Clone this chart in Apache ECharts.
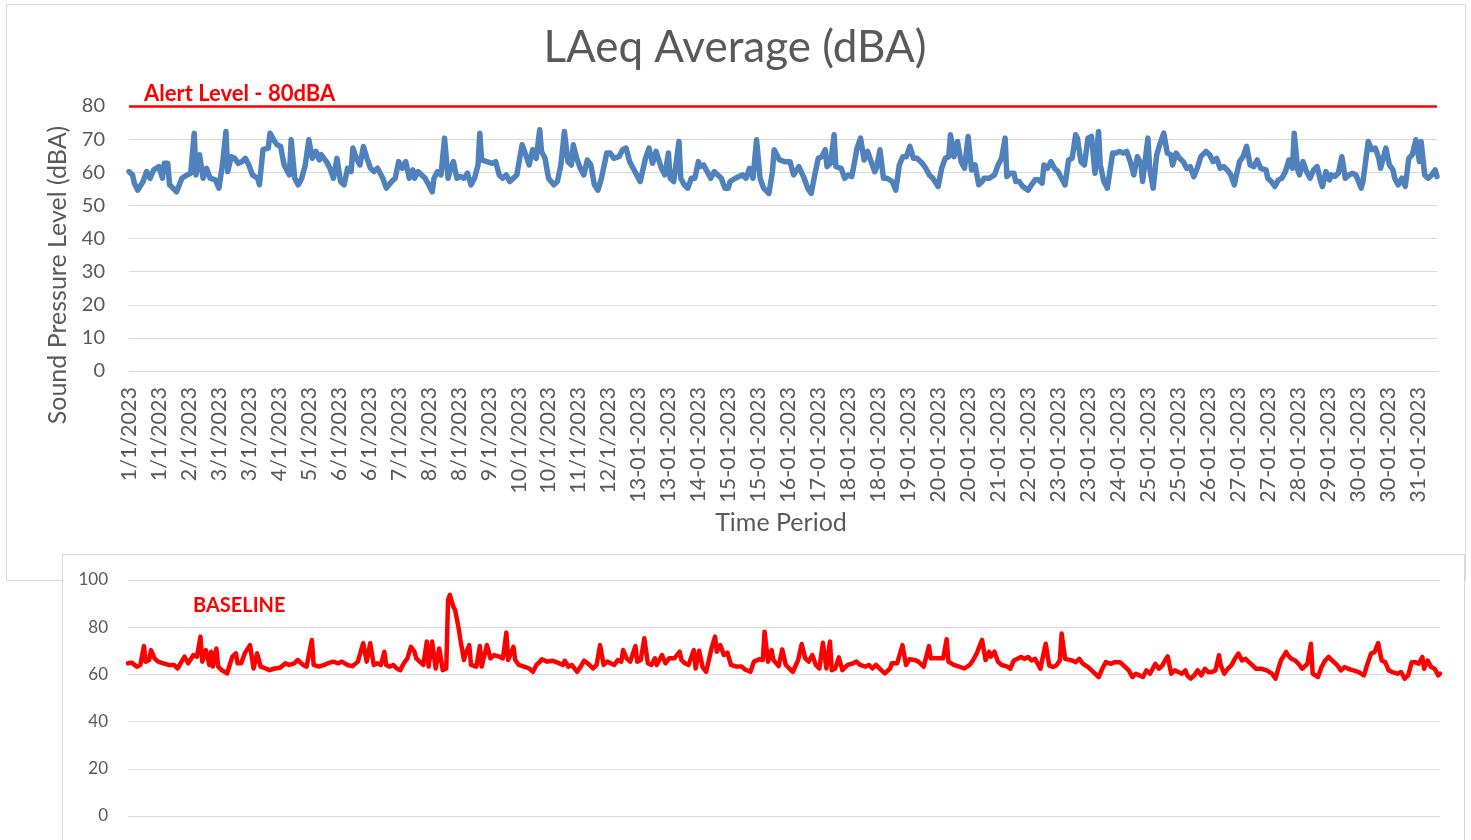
<!DOCTYPE html>
<html><head><meta charset="utf-8">
<script src="https://cdn.jsdelivr.net/npm/echarts@6/dist/echarts.min.js"></script>
<style>
html,body{margin:0;padding:0;background:#fff;width:1471px;height:840px;overflow:hidden;position:relative}
#topBox{position:absolute;left:6px;top:4px;width:1460px;height:577px;border:1px solid #d9d9d9;box-sizing:border-box}
#chartTop{position:absolute;left:0;top:0;width:1471px;height:840px}
#botBox{position:absolute;left:62px;top:554px;width:1403px;height:300px;border:1px solid #d9d9d9;box-sizing:border-box;background:#fff}
#chartBot{position:absolute;left:0;top:0;width:1471px;height:840px}
</style></head><body>
<div id="topBox"></div><div id="chartTop"></div><div id="botBox"></div><div id="chartBot"></div>
<script>
const tickLabels = ["1/1/2023","1/1/2023","2/1/2023","3/1/2023","3/1/2023","4/1/2023","5/1/2023","6/1/2023","6/1/2023","7/1/2023","8/1/2023","8/1/2023","9/1/2023","10/1/2023","10/1/2023","11/1/2023","12/1/2023","13-01-2023","13-01-2023","14-01-2023","15-01-2023","15-01-2023","16-01-2023","17-01-2023","18-01-2023","18-01-2023","19-01-2023","20-01-2023","20-01-2023","21-01-2023","22-01-2023","23-01-2023","23-01-2023","24-01-2023","25-01-2023","25-01-2023","26-01-2023","27-01-2023","27-01-2023","28-01-2023","29-01-2023","30-01-2023","30-01-2023","31-01-2023"];
const hoursCount = 743;
const labelStep = 17;
const alertLevel = 80;

// [hour index, dBA]
const laeqAverage = [[0,60.2],[2,59.2],[3,56.7],[5,54.6],[8,57.2],[10,60.2],[12,58.2],[14,60.7],[17,61.7],[19,58.2],[20,62.7],[22,62.7],[23,56.2],[25,55.2],[27,54.1],[30,58.2],[33,59.2],[35,59.7],[37,71.8],[38,59.2],[40,65.3],[42,58.2],[44,61.2],[46,58.2],[49,57.7],[51,55.2],[53,62.2],[55,72.3],[56,60.2],[58,64.7],[60,64.2],[62,62.7],[64,63.2],[66,64.2],[68,62.2],[70,59.2],[73,58.2],[74,56.2],[76,66.8],[79,67.3],[80,71.8],[82,69.8],[84,68.3],[86,67.8],[88,62.2],[90,60.2],[91,59.2],[92,69.8],[94,58.2],[96,56.2],[98,58.2],[100,62.2],[102,69.8],[104,64.2],[106,66.3],[108,63.7],[109,65.3],[112,63.2],[114,61.2],[116,58.2],[118,64.2],[120,57.2],[122,56.2],[124,61.2],[126,60.2],[127,67.3],[129,64.2],[131,62.2],[133,67.8],[135,64.2],[137,61.2],[139,60.2],[141,61.2],[144,58.2],[146,55.2],[149,57.2],[151,58.2],[153,63.2],[155,61.2],[157,63.2],[159,58.2],[161,60.7],[162,58.2],[164,60.2],[166,59.2],[168,58.2],[170,56.2],[172,54.1],[173,58.2],[175,60.2],[177,59.2],[179,70.3],[181,58.2],[182,60.2],[184,63.2],[186,58.2],[188,58.7],[190,58.2],[192,59.7],[194,56.2],[196,58.2],[198,62.2],[199,71.8],[200,63.7],[203,63.2],[206,62.7],[208,63.2],[210,59.2],[212,58.2],[214,59.2],[216,57.2],[218,58.2],[220,59.2],[223,68.3],[225,65.3],[227,62.2],[229,66.8],[231,64.2],[233,72.8],[234,66.3],[236,64.2],[238,58.2],
[239,58.2],[241,56.2],[243,57.2],[245,62.2],[247,72.3],[249,63.2],[251,62.2],[252,68.3],[254,64.2],[256,61.2],[258,59.2],[260,63.7],[262,62.2],[264,56.2],[266,54.6],[268,58.2],[270,63.2],[271,65.8],[273,65.8],[275,64.2],[278,64.7],[280,66.8],[282,67.3],[284,63.2],[286,61.2],[288,59.2],[290,57.2],[293,64.2],[295,67.3],[297,62.7],[299,66.3],[302,61.2],[304,59.2],[306,65.8],[307,58.2],[309,57.2],[312,69.3],[313,58.2],[315,56.2],[317,55.2],[319,58.2],[321,58.2],[323,63.2],[324,61.7],[326,62.2],[328,60.2],[330,58.2],[332,60.2],[334,59.2],[336,58.2],[338,55.2],[340,55.2],[341,57.2],[344,58.2],[346,58.7],[348,59.2],[350,58.2],[352,61.2],[354,58.2],[356,69.8],[358,58.2],[360,55.2],[363,53.6],[365,60.2],[366,66.8],[369,63.7],[372,63.2],[375,63.2],[377,59.2],[380,61.7],[383,58.2],[385,55.2],[387,53.6],[389,59.2],[391,64.2],[393,64.7],[395,66.8],[396,61.7],[398,62.7],[400,71.3],[401,61.7],[404,61.2],[406,58.2],[408,59.2],[410,58.7],[412,64.2],[413,67.3],[415,70.3],[417,63.7],[419,66.3],[421,63.2],[423,60.2],[424,61.2],[426,66.8],[428,58.2],[430,58.2],[433,57.2],[435,54.6],[437,62.2],[439,64.7],[441,64.7],[443,67.8],[445,64.2],[447,64.2],[448,64.2],[450,62.7],[452,61.2],[454,59.2],[456,58.2],[459,55.7],[461,61.2],[463,64.2],[465,64.7],[466,71.3],[468,64.7],[470,69.3],[472,63.2],[474,61.2],[476,70.8],[478,60.7],[480,62.2],[482,56.2],[484,57.2],[485,58.2],[488,58.2],[491,59.2],[493,62.2],[495,64.2],
[497,70.3],[498,58.7],[500,59.7],[502,59.7],[503,57.2],[505,57.2],[507,55.7],[510,54.6],[512,56.2],[514,57.7],[516,57.7],[518,56.7],[519,62.2],[521,61.2],[523,63.2],[525,61.2],[527,60.2],[529,58.2],[531,56.2],[533,63.7],[535,64.2],[537,71.3],[538,70.3],[540,63.2],[542,62.2],[544,70.3],[545,70.3],[546,70.8],[548,59.7],[550,72.3],[551,62.2],[553,57.2],[555,55.2],[556,58.7],[558,65.8],[560,65.8],[562,66.3],[564,65.8],[566,66.3],[568,63.2],[570,59.2],[572,64.7],[574,62.7],[575,57.2],[578,70.3],[579,61.2],[581,55.2],[583,65.3],[585,68.8],[587,71.8],[589,65.8],[591,65.3],[592,62.2],[594,65.8],[596,64.2],[598,63.2],[600,61.2],[602,61.7],[604,58.7],[606,61.2],[608,64.7],[609,65.3],[611,66.3],[613,65.3],[615,63.2],[617,64.2],[619,61.2],[621,61.7],[623,60.7],[625,59.2],[627,56.2],[628,58.7],[630,63.2],[632,64.7],[634,67.8],[636,62.2],[638,61.7],[640,63.7],[642,61.2],[645,60.7],[646,58.2],[648,57.2],[650,55.7],[652,57.7],[654,58.2],[656,60.2],[658,63.7],[660,61.2],[661,71.8],[663,60.7],[664,59.2],[666,63.2],[668,60.2],[670,58.2],[672,60.7],[674,61.7],[676,57.2],[677,55.7],[679,60.2],[681,57.7],[682,59.2],[684,58.7],[686,59.7],[688,64.7],[690,58.2],[692,59.2],[694,59.7],[696,59.2],[699,55.2],[700,57.2],[703,69.3],[705,66.8],[707,67.3],[709,64.2],[710,61.2],[713,67.3],[715,62.2],[717,60.7],[718,58.2],[720,56.2],[722,58.2],[724,55.7],[726,64.2],[728,65.3],[730,69.8],[732,63.2],[733,69.3],[735,59.2],[737,58.2],[739,59.2],[741,60.7],[742,58.7]];

const baseline = [[0,64.7],[2,65.0],[5,63.3],[7,64.0],[9,72.0],[10,65.4],[12,66.1],[13,70.3],[15,66.8],[17,65.4],[20,64.7],[23,64.0],[26,64.0],[28,62.5],[29,63.3],[32,67.5],[34,64.7],[37,68.2],[39,67.5],[41,76.0],[42,65.4],[44,70.3],[46,64.0],[47,69.6],[48,63.3],[50,71.0],[51,63.3],[53,61.8],[56,60.4],[59,67.5],[61,68.9],[62,64.7],[64,64.7],[66,68.9],[69,72.4],[71,62.5],[73,68.9],[75,63.3],[78,62.5],[80,61.8],[83,62.5],[86,62.8],[89,64.7],[91,64.0],[94,64.7],[96,66.1],[99,64.0],[101,63.3],[104,74.6],[105,64.0],[108,63.3],[111,64.0],[113,64.7],[116,65.4],[119,64.7],[121,65.4],[124,64.0],[127,63.5],[130,65.4],[131,65.4],[133,73.2],[135,65.4],[137,73.2],[139,64.0],[141,64.7],[143,64.0],[145,69.6],[146,64.0],[148,63.3],[150,64.0],[152,62.5],[154,61.8],[156,64.7],[158,66.8],[160,71.7],[162,69.6],[163,66.8],[165,65.4],[167,64.0],[169,73.9],[170,63.3],[172,73.9],[174,62.5],[176,71.0],[178,61.8],[180,62.5],[181,91.5],[182,93.7],[184,88.7],[185,87.3],[187,79.5],[188,74.6],[190,66.1],[191,68.9],[193,72.4],[194,64.0],[197,63.3],[199,72.0],[200,63.3],[203,72.4],[205,66.8],[207,68.2],[210,67.5],[212,66.8],[214,77.7],[215,66.1],[218,71.7],[219,66.1],[221,64.0],[224,63.3],[227,62.5],[229,61.1],[231,64.0],[233,65.4],
[234,66.4],[237,65.4],[240,65.8],[243,65.0],[246,64.0],[247,65.8],[249,63.3],[251,64.0],[254,61.1],[256,63.3],[258,65.8],[260,64.7],[263,62.5],[265,64.0],[267,72.4],[269,64.0],[271,65.4],[273,64.7],[275,64.0],[277,66.1],[279,65.4],[280,70.3],[282,66.8],[284,65.4],[287,72.0],[288,65.4],[290,66.1],[292,75.3],[294,64.7],[296,64.0],[298,66.8],[299,64.0],[302,68.2],[304,64.7],[306,66.8],[309,66.8],[312,69.6],[313,66.1],[315,64.7],[317,64.0],[320,70.3],[321,62.5],[323,70.0],[325,63.0],[327,61.1],[330,71.0],[332,76.0],[333,69.6],[335,72.4],[337,68.2],[339,69.2],[341,64.0],[344,63.3],[347,63.3],[349,62.1],[352,61.1],[354,65.4],[357,66.4],[359,66.1],[360,78.1],[362,65.4],[364,70.3],[365,66.1],[368,63.5],[370,70.6],[372,64.0],[374,62.5],[376,61.1],[379,66.1],[381,72.9],[383,66.8],[385,65.4],[387,68.2],[389,64.0],[391,62.5],[393,73.4],[395,62.5],[397,73.9],[398,61.8],[400,62.5],[402,67.2],[404,61.8],[407,64.0],[410,64.7],[412,65.4],[414,64.0],[415,64.0],[417,63.3],[419,64.0],[421,62.5],[423,64.0],[426,61.8],[428,60.4],[431,62.5],[432,64.7],[435,64.7],[438,72.4],[440,64.0],[442,66.4],[445,66.1],[447,65.4],[450,63.3],[453,72.0],[454,66.8],[457,66.8],[461,66.8],[463,74.9],[464,65.4],[467,64.0],[470,63.3],[473,62.5],[476,64.0],[478,66.1],[480,68.9],[483,74.6],[485,66.1],[487,69.6],[488,67.5],[490,69.6],[492,65.4],[494,64.0],
[497,63.4],[499,62.4],[501,65.9],[503,66.6],[505,67.4],[507,66.6],[509,67.4],[511,65.9],[513,66.6],[514,65.9],[516,62.4],[518,69.5],[519,73.0],[521,63.8],[523,63.1],[525,63.8],[527,65.9],[528,77.3],[530,66.6],[531,65.9],[534,65.9],[536,65.2],[538,66.6],[540,64.5],[543,63.1],[546,61.0],[547,60.3],[549,58.9],[551,62.4],[553,65.2],[556,64.5],[558,65.2],[561,65.2],[563,63.8],[564,64.5],[566,61.7],[568,58.9],[570,60.3],[572,59.6],[574,58.9],[576,61.7],[578,60.3],[580,63.1],[581,64.5],[583,62.4],[585,63.8],[587,66.6],[588,67.6],[590,60.3],[592,61.7],[594,61.0],[596,60.3],[598,61.7],[599,59.6],[601,58.2],[603,59.6],[605,61.7],[607,59.6],[609,62.4],[611,61.0],[613,61.0],[615,61.7],[617,68.1],[618,63.8],[620,60.3],[622,62.4],[624,63.8],[626,66.6],[628,68.8],[630,65.9],[632,66.6],[633,66.6],[636,63.8],[638,62.4],[641,62.4],[644,61.7],[647,60.3],[649,58.2],[650,61.0],[652,65.9],[655,69.5],[656,68.1],[658,66.6],[660,65.9],[662,64.5],[664,62.4],[665,61.7],[667,64.5],[669,73.0],[670,60.3],[671,61.0],[673,58.9],[675,63.1],[677,65.9],[679,67.4],[681,65.9],[682,66.6],[684,63.8],[686,61.7],[688,63.1],[690,62.4],[693,61.7],[696,61.0],[699,59.6],[701,64.5],[703,68.8],[705,69.5],[707,73.3],[709,65.9],[711,65.2],[713,61.7],[715,61.0],[716,61.7],[718,60.3],[720,61.0],[722,58.2],[724,59.6],[726,65.2],[728,65.2],[730,64.5],[732,67.4],[733,62.4],[735,65.9],[737,63.1],[739,62.4],[741,59.6],[742,60.3]];

const FONT = 'Lato';
const GRAY = '#595959';
const GRID = '#d9d9d9';
const categories = Array.from({length: hoursCount}, (_, i) => i % labelStep === 0 ? tickLabels[i / labelStep] : '');

const chartTop = echarts.init(document.getElementById('chartTop'), null, {renderer: 'canvas'});
chartTop.setOption({
  animation: false,
  grid: {left: 129, top: 106, width: 1308, height: 265},
  xAxis: {
    type: 'category', data: categories, boundaryGap: false,
    axisLine: {show: true, lineStyle: {color: GRID}}, axisTick: {show: false},
    axisLabel: {interval: (i) => i % labelStep === 0, rotate: 90, margin: 16, color: GRAY, fontFamily: FONT, fontSize: 21.5},
    splitLine: {show: false}
  },
  yAxis: {
    type: 'value', min: 0, max: 80, interval: 10,
    axisLine: {show: false}, axisTick: {show: false},
    axisLabel: {margin: 24, color: GRAY, fontFamily: FONT, fontSize: 20},
    splitLine: {lineStyle: {color: GRID, width: 1}}
  },
  series: [{
    type: 'line', data: laeqAverage, symbol: 'none',
    lineStyle: {color: '#4f81bd', width: 5.5, join: 'round', cap: 'round'},
    markLine: {silent: true, symbol: 'none', label: {show: false},
      lineStyle: {color: '#ff0000', width: 2.5, type: 'solid'}, data: [{yAxis: alertLevel}]}
  }],
  graphic: [
    {type: 'text', x: 735, y: 48, style: {text: 'LAeq Average (dBA)', fill: GRAY, font: '44px Lato', textAlign: 'center', textVerticalAlign: 'middle'}},
    {type: 'text', x: 58, y: 275, rotation: Math.PI / 2, style: {text: 'Sound Pressure Level (dBA)', fill: GRAY, font: '25px Lato', textAlign: 'center', textVerticalAlign: 'middle'}},
    {type: 'text', x: 781, y: 523, style: {text: 'Time Period', fill: GRAY, font: '25px Lato', textAlign: 'center', textVerticalAlign: 'middle'}},
    {type: 'text', x: 144, y: 94, style: {text: 'Alert Level - 80dBA', fill: '#ff0000', font: 'bold 22px Lato', textAlign: 'left', textVerticalAlign: 'middle'}}
  ]
});

const chartBot = echarts.init(document.getElementById('chartBot'), null, {renderer: 'canvas'});
chartBot.setOption({
  animation: false,
  grid: {left: 128, top: 580, width: 1312, height: 236},
  xAxis: {
    type: 'category', data: categories, boundaryGap: false,
    axisLine: {show: false}, axisTick: {show: false}, axisLabel: {show: false}, splitLine: {show: false}
  },
  yAxis: {
    type: 'value', min: 0, max: 100, interval: 20,
    axisLine: {show: false}, axisTick: {show: false},
    axisLabel: {margin: 20, color: GRAY, fontFamily: FONT, fontSize: 17},
    splitLine: {lineStyle: {color: GRID, width: 1}}
  },
  series: [{
    type: 'line', data: baseline, symbol: 'none',
    lineStyle: {color: '#ff0000', width: 4.5, join: 'round', cap: 'round'}
  }],
  graphic: [
    {type: 'text', x: 193, y: 606, style: {text: 'BASELINE', fill: '#ff0000', font: 'bold 20px Lato', textAlign: 'left', textVerticalAlign: 'middle'}}
  ]
});
</script>
</body></html>
